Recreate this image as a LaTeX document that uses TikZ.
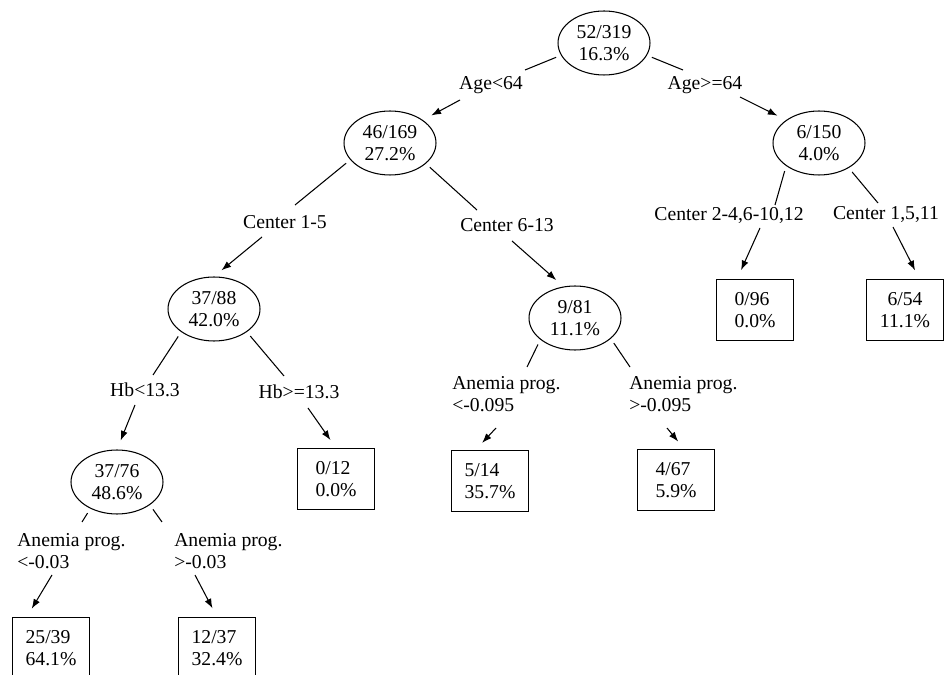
\documentclass[tikz,border=0pt]{standalone}
\usepackage{fontspec}
\setmainfont{Liberation Serif}
\usetikzlibrary{shapes.geometric,arrows.meta}

\begin{document}
\begin{tikzpicture}[
    x=0.02cm, y=-0.02cm,
    every node/.style={font=\fontsize{11.2}{12.8}\selectfont},
    split/.style={ellipse, draw, minimum width=1.84cm, minimum height=1.28cm, inner sep=0pt, align=center},
    leaf/.style={rectangle, draw, minimum width=1.54cm, minimum height=1.22cm, inner sep=0pt, align=left},
    rule/.style={inner sep=1pt, align=left},
    link/.style={shorten <=3pt},
    arrow/.style={->, shorten >=5.5pt},
    >={Latex[length=5.5pt,width=4pt]},
    line width=0.6pt
]
\useasboundingbox (0,0) rectangle (944,675);
\clip (0,0) rectangle (944,675);

% Splits
\node[split] (root) at (604,43) {52/319\\16.3\%};
\node[split] (young) at (390,143) {46/169\\27.2\%};
\node[split] (old) at (819,143) {6/150\\4.0\%};
\node[split] (cA) at (214,309) {37/88\\42.0\%};
\node[split] (cB) at (575,318) {9/81\\11.1\%};
\node[split] (hb) at (117,482) {37/76\\48.6\%};

% Leaves
\node[leaf] (l096) at (755,310) {0/96\\0.0\%};
\node[leaf, align=center] (l654) at (905,310) {6/54\\11.1\%};
\node[leaf] (l012) at (336,479) {0/12\\0.0\%};
\node[leaf] (l514) at (490,481) {5/14\\35.7\%};
\node[leaf] (l467) at (676,480) {4/67\\5.9\%};
\node[leaf] (l2539) at (51,648) {25/39\\64.1\%};
\node[leaf] (l1237) at (217,648) {12/37\\32.4\%};

% Split rules
\node[rule] (agelt) at (491,85) {Age<64};
\node[rule] (agege) at (705,85) {Age>=64};
\node[rule] (cen15) at (285,222) {Center 1-5};
\node[rule] (cen613) at (507,225) {Center 6-13};
\node[rule] (cen24) at (729,215) {Center 2-4,6-10,12};
\node[rule] (cen1511) at (886,215) {Center 1,5,11};
\node[rule] (hblt) at (145,390) {Hb<13.3};
\node[rule] (hbge) at (299,392) {Hb>=13.3};
\node[rule, anchor=west] (ap1) at (450,394) {Anemia prog.\\<-0.095};
\node[rule, anchor=west] (ap2) at (627,394) {Anemia prog.\\>-0.095};
\node[rule, anchor=west] (ap3) at (15,551) {Anemia prog.\\<-0.03};
\node[rule, anchor=west] (ap4) at (172,551) {Anemia prog.\\>-0.03};

% Free ends above (a) and below (b) each rule
\coordinate (a1) at (525,70);  \coordinate (b1) at (460,100);
\coordinate (a2) at (683,70);  \coordinate (b2) at (740,97);
\coordinate (a3) at (295,205); \coordinate (b3) at (262,237);
\coordinate (a4) at (477,210); \coordinate (b4) at (512,241);
\coordinate (a5) at (775,205); \coordinate (b5) at (760,228);
\coordinate (a6) at (878,203); \coordinate (b6) at (893,227);
\coordinate (a7) at (153,375); \coordinate (b7) at (135,405);
\coordinate (a8) at (284,376); \coordinate (b8) at (308,408);
\coordinate (a9) at (527,367); \coordinate (b9) at (496,428);
\coordinate (a10) at (630,367); \coordinate (b10) at (667,428);
\coordinate (a11) at (82,522); \coordinate (b11) at (52,575);
\coordinate (a12) at (162,522); \coordinate (b12) at (195,575);

% Age
\draw[link] (root.196) -- (a1);
\draw[arrow] (b1) -- (young.north east);
\draw[link] (root.-16) -- (a2);
\draw[arrow] (b2) -- (old.north west);

% Center
\draw[link] (young.203) -- (a3);
\draw[arrow] (b3) -- (cA.north);
\draw[link] (young.-30) -- (a4);
\draw[arrow] (b4) -- (cB.110);
\draw[link] (old.south west) -- (a5);
\draw[arrow] (b5) -- (l096.120);
\draw[link] (old.-40) -- (a6);
\draw[arrow] (b6) -- (l654.65);

% Hb
\draw[link] (cA.215) -- (a7);
\draw[arrow] (b7) -- (hb.north);
\draw[link] (cA.-35) -- (a8);
\draw[arrow] (b8) -- (l012.north);

% Anemia progression
\draw[link] (cB.212) -- (a9);
\draw[arrow] (b9) -- (l514.115);
\draw[link] (cB.-30) -- (a10);
\draw[arrow] (b10) -- (l467.75);
\draw[link] (hb.225) -- (a11);
\draw[arrow] (b11) -- (l2539.128);
\draw[link] (hb.-35) -- (a12);
\draw[arrow] (b12) -- (l1237.north);

\end{tikzpicture}
\end{document}
